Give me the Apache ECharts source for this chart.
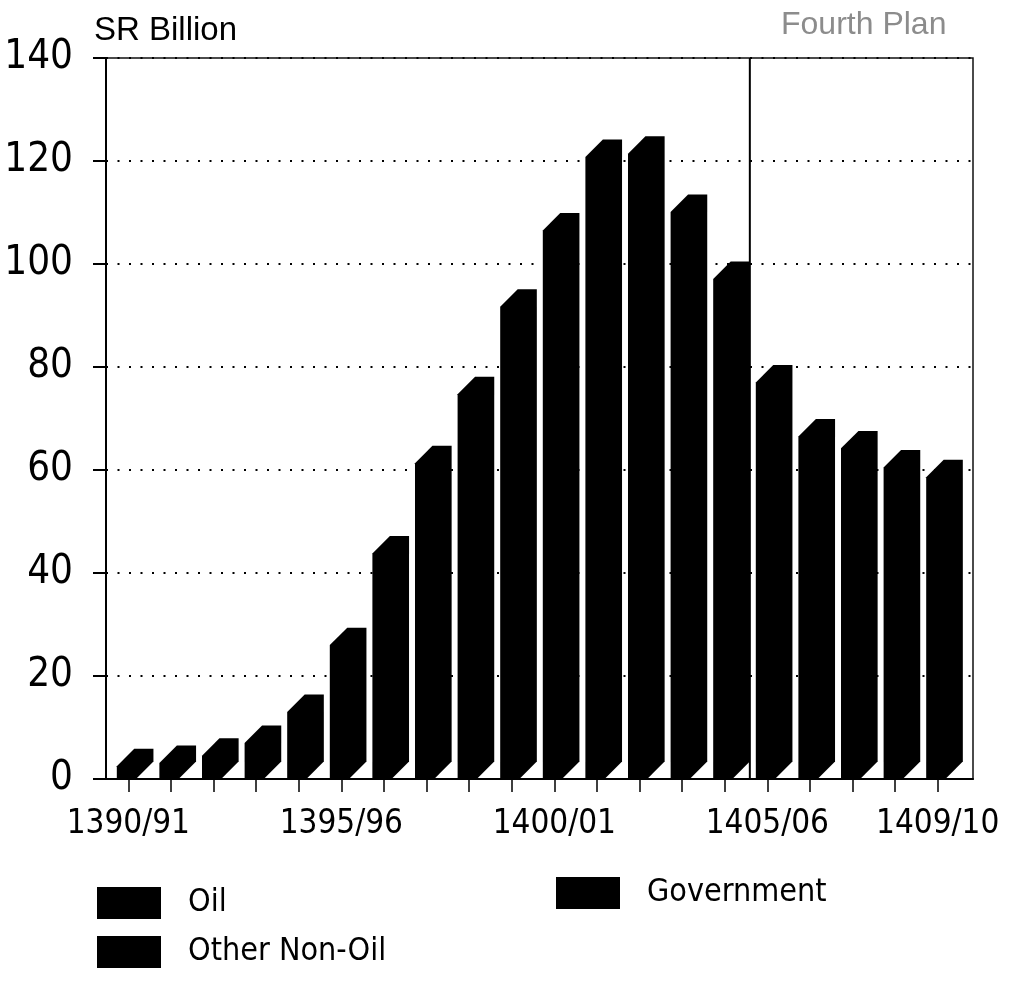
<!DOCTYPE html>
<html>
<head>
<meta charset="utf-8">
<style>
  html, body { margin: 0; padding: 0; background: #fff; }
  #chart { width: 1019px; height: 981px; }
</style>
<script src="https://cdn.jsdelivr.net/npm/echarts@6/dist/echarts.min.js"></script>
</head>
<body>
<div id="chart"></div>
<script>
// Fiscal years (Hijri) on the horizontal axis
const years = [
  '1390/91', '1391/92', '1392/93', '1393/94', '1394/95',
  '1395/96', '1396/97', '1397/98', '1398/99', '1399/00',
  '1400/01', '1401/02', '1402/03', '1403/04', '1404/05',
  '1405/06', '1406/07', '1407/08', '1408/09', '1409/10'
];
// Years that carry a label under the axis
const labelledYears = ['1390/91', '1395/96', '1400/01', '1405/06', '1409/10'];
// Total (Oil + Government + Other Non-Oil), SR billion
const totals = [
  2.5, 3.1, 4.5, 7.0, 13.0,
  26.0, 43.8, 61.3, 74.7, 91.7,
  106.5, 120.8, 121.4, 110.1, 97.1,
  77.0, 66.5, 64.2, 60.5, 58.6
];
// First year of the Fourth Plan
const fourthPlanStart = '1405/06';
// Value axis
const yMin = 0, yMax = 140, yStep = 20;
const legendNames = ['Oil', 'Government', 'Other Non-Oil'];

const NARROW = '"DejaVu Sans Condensed", "DejaVu Sans", sans-serif';

const chart = echarts.init(document.getElementById('chart'), null, { renderer: 'canvas' });

// Black block bars with a slanted top and side (pseudo-3D)
function renderBlock(params, api) {
  const idx = api.value(0);
  const top = api.coord([idx, api.value(1)]);
  const base = api.coord([idx, 0]);
  const band = api.size([1, 0])[0];
  const x0 = top[0] - band * 0.27;
  const w = band * 0.45;
  const d = band * 0.41;
  return {
    type: 'polygon',
    shape: {
      points: [
        [x0, base[1]],
        [x0, top[1]],
        [x0 + d, top[1] - d],
        [x0 + w + d, top[1] - d],
        [x0 + w + d, base[1] - d],
        [x0 + w, base[1]]
      ]
    },
    style: { fill: '#000' }
  };
}

// Vertical divider marking the start of the Fourth Plan
function renderDivider(params, api) {
  const cs = params.coordSys;
  const band = api.size([1, 0])[0];
  const x = api.coord([api.value(0), 0])[0] - band * 0.41;
  return {
    type: 'line',
    shape: { x1: x, y1: cs.y, x2: x, y2: cs.y + cs.height },
    style: { stroke: '#000', lineWidth: 2 }
  };
}

const legendCommon = {
  icon: 'rect',
  itemWidth: 64,
  itemHeight: 32,
  padding: 0,
  selectedMode: false,
  textStyle: { fontFamily: NARROW, fontSize: 32, color: '#000', padding: [0, 0, 0, 22] }
};

const option = {
  animation: false,
  backgroundColor: '#fff',
  title: [
    {
      text: 'SR Billion', left: 89, top: 9,
      textStyle: { fontFamily: '"Liberation Sans", sans-serif', fontSize: 33, fontWeight: 'normal', color: '#000' }
    },
    {
      text: 'Fourth Plan', left: 776, top: 4,
      textStyle: { fontFamily: '"Liberation Sans", sans-serif', fontSize: 32, fontWeight: 'normal', color: '#8c8c8c' }
    }
  ],
  legend: [
    Object.assign({ data: ['Oil'], left: 97, top: 887 }, legendCommon),
    Object.assign({ data: ['Other Non-Oil'], left: 97, top: 936 }, legendCommon),
    Object.assign({ data: ['Government'], left: 556, top: 877 }, legendCommon)
  ],
  grid: [
    // framed plot area with the value scale
    {
      left: 106, right: 46, top: 58, bottom: 202, containLabel: false, outerBoundsMode: 'none',
      show: true, borderColor: '#111', borderWidth: 1.5, backgroundColor: 'transparent'
    },
    // area holding the yearly bars
    { left: 107, right: 60, top: 58, bottom: 202, containLabel: false, outerBoundsMode: 'none' }
  ],
  xAxis: [
    {
      gridIndex: 0, type: 'value', min: 0, max: 1,
      axisLine: { show: true, onZero: false, lineStyle: { color: '#000', width: 2 } },
      axisTick: { show: false }, axisLabel: { show: false }, splitLine: { show: false }
    },
    {
      gridIndex: 1, type: 'category', data: years, boundaryGap: true,
      axisLine: { show: false },
      axisTick: { show: true, alignWithLabel: true, interval: 0, length: 13, lineStyle: { color: '#000', width: 1.5 } },
      axisLabel: {
        interval: (i) => labelledYears.indexOf(years[i]) >= 0,
        margin: 29,
        hideOverlap: false,
        fontFamily: NARROW, fontSize: 33, color: '#000'
      },
      splitLine: { show: false }
    }
  ],
  yAxis: [
    {
      gridIndex: 0, type: 'value', min: yMin, max: yMax, interval: yStep,
      axisLine: { show: true, lineStyle: { color: '#000', width: 2 } },
      axisTick: { show: true, length: 13, lineStyle: { color: '#000', width: 2 } },
      axisLabel: { margin: 33, fontFamily: NARROW, fontSize: 40, color: '#000' },
      splitLine: { show: true, lineStyle: { color: '#000', width: 2, type: [2, 9.5] } }
    },
    {
      gridIndex: 1, type: 'value', min: yMin, max: yMax, interval: yStep,
      show: false, splitLine: { show: false }
    }
  ],
  series: [
    {
      name: 'Total', type: 'custom', xAxisIndex: 1, yAxisIndex: 1,
      renderItem: renderBlock,
      data: totals.map((v, i) => [i, v]),
      z: 3
    },
    {
      name: 'Fourth Plan', type: 'custom', xAxisIndex: 1, yAxisIndex: 1,
      renderItem: renderDivider,
      data: [[years.indexOf(fourthPlanStart)]],
      z: 4, silent: true
    }
  ].concat(legendNames.map((n) => ({
    name: n, type: 'bar', xAxisIndex: 1, yAxisIndex: 1,
    itemStyle: { color: '#000' }, data: []
  })))
};

chart.setOption(option);
</script>
</body>
</html>
